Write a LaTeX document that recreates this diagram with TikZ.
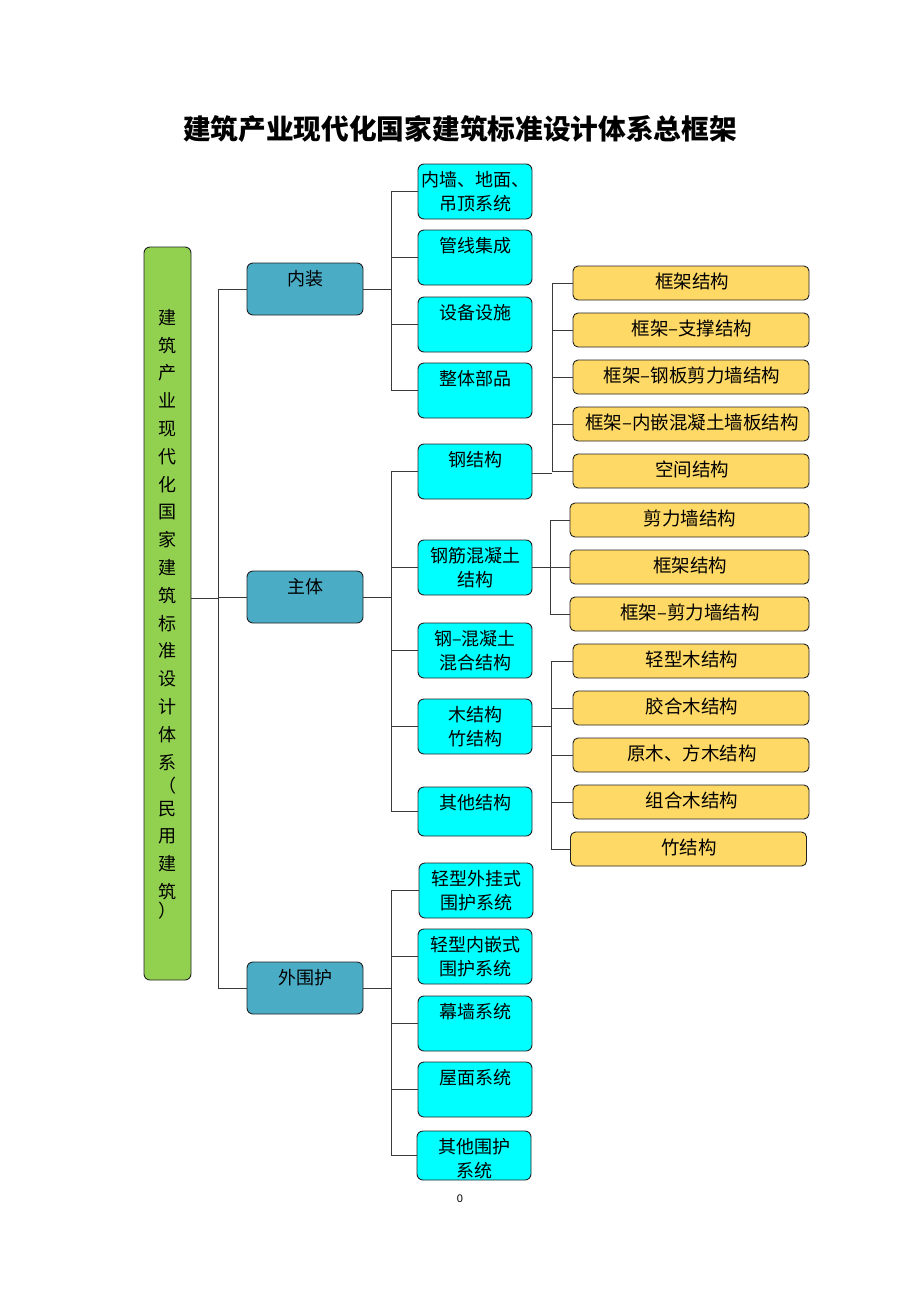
\documentclass[tikz,border=0pt]{standalone}
\usepackage{fontspec}
\setmainfont{Noto Sans CJK SC}
\newfontfamily\pgnum{Liberation Sans}
\definecolor{cyanc}{HTML}{00FFFF}
\definecolor{bluec}{HTML}{4BACC6}
\definecolor{greenc}{HTML}{92D050}
\definecolor{yellowc}{HTML}{FFD966}
\definecolor{linec}{HTML}{3A3A3A}
\definecolor{edgec}{HTML}{222222}
\begin{document}
\begin{tikzpicture}[x=1pt,y=-1pt,
  box/.style={draw=edgec, line width=0.9pt, rounded corners=6pt, inner sep=0pt},
  cbox/.style={box, fill=cyanc, minimum width=114pt, minimum height=55pt},
  bbox/.style={box, fill=bluec, minimum width=116pt, minimum height=52pt},
  ybox/.style={box, fill=yellowc, minimum width=236pt, minimum height=34pt, rounded corners=5pt},
  gbox/.style={box, fill=greenc, minimum width=47pt, minimum height=733pt},
  txt/.style={font=\fontsize{18}{24}\selectfont, align=center, inner sep=0pt, anchor=north, yshift=-2pt},
  ytxt/.style={font=\fontsize{18.5}{24}\selectfont, inner sep=0pt},
  link/.style={draw=linec, line width=1pt}]
\useasboundingbox (0,0) rectangle (920,1302);

% title
\node[font=\fontsize{27.7}{30}\selectfont\bfseries, inner sep=0pt] (title) at (460,129) {建筑产业现代化国家建筑标准设计体系总框架};

% root
\node[gbox] (root) at (167.5,613.5) {};
\node[font=\fontsize{18}{27.8}\selectfont, align=center, inner sep=0pt, anchor=north] (roottxt) at (167.5,309)
 {建\\筑\\产\\业\\现\\代\\化\\国\\家\\建\\筑\\标\\准\\设\\计\\体\\系\\[-4.8pt]（\\[-4.8pt]民\\用\\建\\筑\\[-8.8pt]）};

% level 1
\node[bbox] (nz) at (305,289) {};
\node[txt] (nztxt) at (305,268) {内装};
\node[bbox] (zt) at (305,597) {};
\node[txt] (zttxt) at (305,576) {主体};
\node[bbox] (wh) at (305,988) {};
\node[txt] (whtxt) at (305,967) {外围护};

% level 2 - 内装
\node[cbox] (c1) at (475,191.5) {};
\node[txt] (c1t) at (475,169) {内墙、地面、\\吊顶系统};
\node[cbox] (c2) at (475,257.5) {};
\node[txt] (c2t) at (475,235) {管线集成};
\node[cbox] (c3) at (475,324.5) {};
\node[txt] (c3t) at (475,302) {设备设施};
\node[cbox] (c4) at (475,390.5) {};
\node[txt] (c4t) at (475,368) {整体部品};

% level 2 - 主体
\node[cbox] (s1) at (475,471.5) {};
\node[txt] (s1t) at (475,449) {钢结构};
\node[cbox] (s2) at (475,567.5) {};
\node[txt] (s2t) at (475,545) {钢筋混凝土\\结构};
\node[cbox] (s3) at (475,650.5) {};
\node[txt] (s3t) at (475,628) {钢–混凝土\\混合结构};
\node[cbox] (s4) at (475,726.5) {};
\node[txt] (s4t) at (475,704) {木结构\\竹结构};
\node[cbox, minimum height=49pt] (s5) at (475,811.5) {};
\node[txt] (s5t) at (475,792) {其他结构};

% level 2 - 外围护
\node[cbox] (e1) at (476,890.5) {};
\node[txt] (e1t) at (476,868) {轻型外挂式\\围护系统};
\node[cbox] (e2) at (475,956.5) {};
\node[txt] (e2t) at (475,934) {轻型内嵌式\\围护系统};
\node[cbox] (e3) at (475,1023.5) {};
\node[txt] (e3t) at (475,1001) {幕墙系统};
\node[cbox] (e4) at (475,1089.5) {};
\node[txt] (e4t) at (475,1067) {屋面系统};
\node[cbox, minimum height=49pt] (e5) at (474,1155.5) {};
\node[txt] (e5t) at (474,1136) {其他围护\\系统};

% level 3 - 钢结构
\node[ybox] (g1) at (691,283) {};
\node[ytxt] (g1t) at (692,281) {框架结构};
\node[ybox] (g2) at (691,330) {};
\node[ytxt] (g2t) at (692,328) {框架–支撑结构};
\node[ybox] (g3) at (691,377) {};
\node[ytxt] (g3t) at (692,375) {框架–钢板剪力墙结构};
\node[ybox] (g4) at (691,424) {};
\node[ytxt] (g4t) at (692,422) {框架–内嵌混凝土墙板结构};
\node[ybox] (g5) at (691,471) {};
\node[ytxt] (g5t) at (692,469) {空间结构};

% level 3 - 钢筋混凝土
\node[ybox, minimum width=239pt] (r1) at (689.5,520) {};
\node[ytxt] (r1t) at (690,518) {剪力墙结构};
\node[ybox, minimum width=239pt] (r2) at (689.5,567) {};
\node[ytxt] (r2t) at (690,565) {框架结构};
\node[ybox, minimum width=239pt] (r3) at (689.5,614) {};
\node[ytxt] (r3t) at (690,612) {框架–剪力墙结构};

% level 3 - 木结构
\node[ybox] (w1) at (691,661) {};
\node[ytxt] (w1t) at (692,659) {轻型木结构};
\node[ybox] (w2) at (691,708) {};
\node[ytxt] (w2t) at (692,706) {胶合木结构};
\node[ybox] (w3) at (691,755) {};
\node[ytxt] (w3t) at (692,753) {原木、方木结构};
\node[ybox] (w4) at (691,802) {};
\node[ytxt] (w4t) at (692,800) {组合木结构};
\node[ybox] (w5) at (688.5,849) {};
\node[ytxt] (w5t) at (689,847) {竹结构};

% page number
\node[font=\pgnum\fontsize{11}{13}\selectfont, inner sep=0pt] (pg) at (460,1199) {0};

% buses
\coordinate (b1) at (218,0);
\coordinate (b2) at (391,0);
\coordinate (b3a) at (552,0);
\coordinate (b3b) at (550,0);
\coordinate (b3c) at (551,0);

% level 1 connectors
\draw[link] ([yshift=15.5pt]root.east) -- ([yshift=15.5pt]root.east -| b1);
\draw[link] (nz.west -| b1) -- (wh.west -| b1);
\foreach \n in {nz,zt,wh} \draw[link] (\n.west -| b1) -- (\n.west);

% level 2 connectors
\draw[link] (nz.east) -- (nz.east -| b2);
\draw[link] (c1.west -| b2) -- (c4.west -| b2);
\foreach \n in {c1,c2,c3,c4} \draw[link] (\n.west -| b2) -- (\n.west);

\draw[link] (zt.east) -- (zt.east -| b2);
\draw[link] (s1.west -| b2) -- (s5.west -| b2);
\foreach \n in {s1,s2,s3,s4,s5} \draw[link] (\n.west -| b2) -- (\n.west);

\draw[link] (wh.east) -- (wh.east -| b2);
\draw[link] (e1.west -| b2) -- (e5.west -| b2);
\foreach \n in {e1,e2,e3,e4,e5} \draw[link] (\n.west -| b2) -- (\n.west);

% level 3 connectors
\draw[link] ([yshift=-1.5pt]s1.east) -- ([yshift=-1.5pt]s1.east -| b3a);
\draw[link] (g1.west -| b3a) -- (g5.west -| b3a);
\foreach \n in {g1,g2,g3,g4,g5} \draw[link] (\n.west -| b3a) -- (\n.west);

\draw[link] (s2.east) -- (s2.east -| b3b);
\draw[link] (r1.west -| b3b) -- (r3.west -| b3b);
\foreach \n in {r1,r2,r3} \draw[link] (\n.west -| b3b) -- (\n.west);

\draw[link] (s4.east) -- (s4.east -| b3c);
\draw[link] (w1.west -| b3c) -- (w5.west -| b3c);
\foreach \n in {w1,w2,w3,w4,w5} \draw[link] (\n.west -| b3c) -- (\n.west);
\end{tikzpicture}
\end{document}
